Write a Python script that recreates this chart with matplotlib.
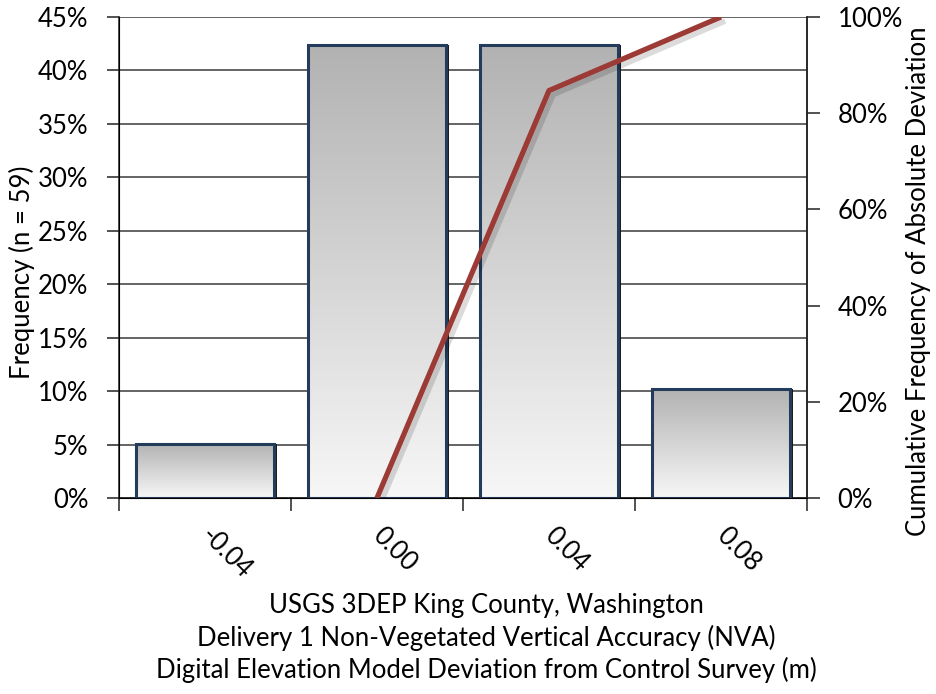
import numpy as np
import matplotlib
matplotlib.use("Agg")
import matplotlib.pyplot as plt
from matplotlib.patches import Rectangle
from matplotlib.ticker import PercentFormatter
import matplotlib.patheffects as pe

plt.rcParams['font.family'] = ['Lato', 'DejaVu Sans']

# Histogram of DEM deviations (n = 59)
categories = ["-0.04", "0.00", "0.04", "0.08"]
frequency = [5.08, 42.37, 42.37, 10.17]          # percent of points per bin
cum_bins = ["0.00", "0.04", "0.08"]
cumulative = [0.0, 84.7, 100.0]                  # cumulative percent of |deviation|

FS = 18.5

fig = plt.figure(figsize=(9.37, 6.94), dpi=100)
ax = fig.add_axes([119/937, 1-498/694, (807-119)/937, (498-17)/694])

x = np.arange(len(categories))
width = 0.8

ax.set_xlim(-0.5, len(categories) - 0.5)
ax.set_ylim(0, 45)

# horizontal gridlines
ax.set_yticks(np.arange(0, 46, 5))
ax.yaxis.grid(True, color='#3a3a3a', linewidth=1.1, zorder=0)
ax.set_axisbelow(True)

grad = np.linspace(0, 1, 256).reshape(-1, 1)
cmap = matplotlib.colors.LinearSegmentedColormap.from_list("g", ["#f7f7f7", "#b2b2b2"])
shift = matplotlib.transforms.ScaledTranslation(1/100, 0, fig.dpi_scale_trans)
for xi, h in zip(x, frequency):
    x0 = xi - width/2
    # gradient fill clipped to the bar
    rect = Rectangle((x0, 0), width, h, facecolor='none', edgecolor='#233c5c',
                     linewidth=2.2, zorder=4)
    ax.add_patch(rect)
    im = ax.imshow(grad, extent=(x0, x0 + width, 0, h), aspect='auto',
                   cmap=cmap, vmin=0, vmax=1, origin='lower', zorder=2,
                   interpolation='bilinear')
    im.set_clip_path(rect)
    # dark shading along the right edge
    ax.plot([x0 + width, x0 + width], [0, h], color='#111111', linewidth=2.8,
            zorder=3.5, solid_capstyle='butt', transform=ax.transData + shift)

ax.set_xticks(x)
ax.set_xticklabels(categories)
ax.set_xticks(np.arange(-0.5, len(categories), 1), minor=True)
ax.tick_params(axis='x', which='major', length=0, pad=24, labelsize=FS)
ax.tick_params(axis='x', which='minor', length=9, width=1.1, color='#222222')
for lbl in ax.get_xticklabels():
    lbl.set_rotation(-45)
    lbl.set_rotation_mode('anchor')
    lbl.set_ha('left')
    lbl.set_va('center')

ax.yaxis.set_major_formatter(PercentFormatter(decimals=0))
ax.tick_params(axis='y', length=9, width=1.1, labelsize=FS, pad=13, color='#222222')
ax.set_ylabel("Frequency (n = 59)", fontsize=FS)
ax.yaxis.set_label_coords(-0.122, 0.47)

ax.spines['top'].set_visible(False)
for s in ['left', 'bottom', 'right']:
    ax.spines[s].set_color('#222222')
    ax.spines[s].set_linewidth(1.1)

ax2 = ax.twinx()
ax2.set_ylim(0, 100)
ax2.set_yticks(np.arange(0, 101, 20))
ax2.yaxis.set_major_formatter(PercentFormatter(decimals=0))
ax2.tick_params(axis='y', length=9, width=1.1, labelsize=FS, pad=13, color='#222222')
ax2.spines['top'].set_visible(False)
ax2.spines['right'].set_color('#222222')
ax2.spines['right'].set_linewidth(1.1)
ax2.set_ylabel("Cumulative Frequency of Absolute Deviation", fontsize=FS)
ax2.yaxis.set_label_coords(1.144, 0.451)

cx = [categories.index(c) for c in cum_bins]
ax2.plot(cx, cumulative, color='#9c3a36', linewidth=3.8, solid_capstyle='butt', zorder=5,
         path_effects=[pe.SimpleLineShadow(offset=(3, -3), shadow_color='#000000', alpha=0.14),
                       pe.Normal()])

fig.text(486/937, 1-605/694, "USGS 3DEP King County, Washington", ha='center', va='center', fontsize=FS)
fig.text(486/937, 1-638/694, "Delivery 1 Non-Vegetated Vertical Accuracy (NVA)", ha='center', va='center', fontsize=FS)
fig.text(486/937, 1-670/694, "Digital Elevation Model Deviation from Control Survey (m)", ha='center', va='center', fontsize=FS)

fig.savefig("out.png", dpi=100, facecolor='white')
